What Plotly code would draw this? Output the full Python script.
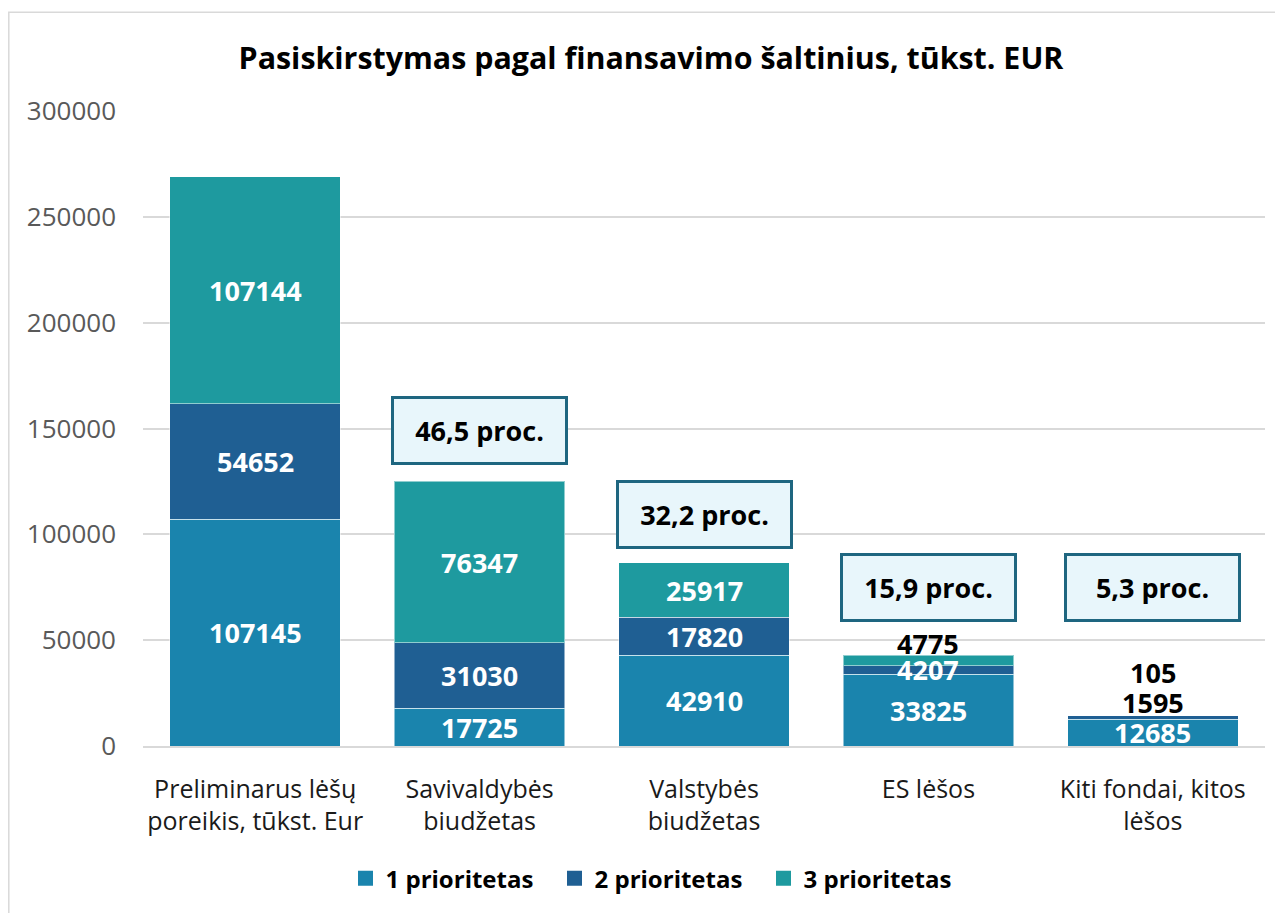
import plotly.graph_objects as go

categories = ["Preliminarus lėšų<br>poreikis, tūkst. Eur", "Savivaldybės<br>biudžetas",
              "Valstybės<br>biudžetas", "ES lėšos", "Kiti fondai, kitos<br>lėšos"]
series_names = ["1 prioritetas", "2 prioritetas", "3 prioritetas"]
p1 = [107145, 17725, 42910, 33825, 12685]
p2 = [54652, 31030, 17820, 4207, 1595]
p3 = [107144, 76347, 25917, 4775, 105]
colors = ["#1a84ad", "#1f5f93", "#1e9a9f"]
percent_labels = ["", "46,5 proc.", "32,2 proc.", "15,9 proc.", "5,3 proc."]
percent_y = [None, 148850, 109300, 74900, 74900]
yticks = [0, 50000, 100000, 150000, 200000, 250000, 300000]

FONT = "Open Sans"
fig = go.Figure()
series = [p1, p2, p3]
for name, vals, col in zip(series_names, series, colors):
    fig.add_trace(go.Bar(x=categories, y=vals, name=name, showlegend=False,
                         marker=dict(color=col, line=dict(color="rgba(255,255,255,0.5)", width=1))))
# legend entries with larger square keys
for name, col in zip(series_names, colors):
    fig.add_trace(go.Scatter(x=[categories[0]], y=[None], mode="markers", name=f"<b>{name}</b>",
                             marker=dict(symbol="square", size=15, color=col), hoverinfo="skip"))

# data labels: (series index, category index) -> (colour, vertical shift in px)
special = {(2, 3): ("black", 17), (1, 4): ("black", 15), (2, 4): ("black", 43)}
cum = [0] * len(categories)
for si, vals in enumerate(series):
    for ci, v in enumerate(vals):
        center = cum[ci] + v / 2
        col, ys = special.get((si, ci), ("white", 0))
        fig.add_annotation(x=categories[ci], y=center, text=f"<b>{v}</b>", showarrow=False,
                           font=dict(family=FONT, size=27, color=col), yshift=ys)
        cum[ci] += v

for ci, (lab, py) in enumerate(zip(percent_labels, percent_y)):
    if not lab:
        continue
    fig.add_annotation(x=categories[ci], y=py, text=f"<b>{lab}</b>", showarrow=False,
                       font=dict(family=FONT, size=27, color="black"),
                       bgcolor="#e8f6fb", bordercolor="#1e6680", borderwidth=3,
                       width=171, height=63, borderpad=0)

# figure is placed at (8, 8) in the page by the body margin
W, H = 1275, 905
L, R, T, B = 135, 18, 103, 165
pw, ph = W - L - R, H - T - B
fig.add_shape(type="rect", xref="paper", yref="paper",
              x0=(0.8 - L) / pw, x1=(1273.5 - L) / pw,
              y0=-0.4, y1=(H - B - 4) / ph,
              line=dict(color="#d9d9d9", width=1.5), fillcolor="rgba(0,0,0,0)")

fig.update_layout(
    width=W, height=H,
    margin=dict(l=L, r=R, t=T, b=B),
    barmode="stack", bargap=0.24,
    plot_bgcolor="white", paper_bgcolor="white",
    font=dict(family=FONT),
    title=dict(text="<b>Pasiskirstymas pagal finansavimo šaltinius, tūkst. EUR</b>",
               x=643 / W, xanchor="center", y=1 - 50 / H, yanchor="middle",
               font=dict(family=FONT, size=30.4, color="black")),
    yaxis=dict(range=[0, 300000], tickvals=yticks, ticktext=[str(t) for t in yticks],
               showgrid=True, gridcolor="#d9d9d9", gridwidth=1.5, zeroline=False,
               tickfont=dict(family=FONT, size=26, color="#595959"), ticklabelstandoff=26),
    xaxis=dict(tickfont=dict(family=FONT, size=25, color="#1a1a1a"), showline=True,
               linecolor="#d9d9d9", linewidth=1.5, ticklabelstandoff=20),
    legend=dict(orientation="h", x=(651 - L) / pw, xanchor="center", y=(H - B - 873) / ph,
                yanchor="middle", font=dict(family=FONT, size=24, color="black"),
                traceorder="normal", entrywidth=164, entrywidthmode="pixels"),
    showlegend=True,
)

fig.write_html("out.html")
